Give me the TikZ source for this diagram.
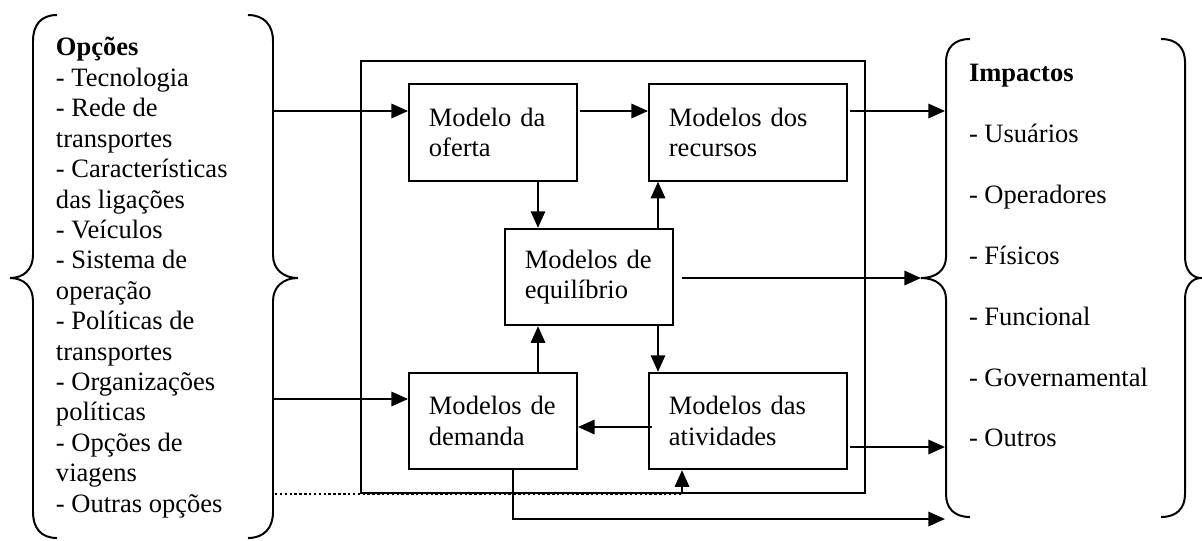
\documentclass[tikz,border=0pt]{standalone}
\usepackage{fontspec}
\setmainfont{Liberation Serif}
\usetikzlibrary{arrows.meta,calc}

\begin{document}
\begin{tikzpicture}[x=0.4525pt, y=-0.4525pt,
		line width=0.9pt,
		arr/.style={-{Triangle[length=7.5pt,width=6.5pt]}},
		dotline/.style={line width=1.1pt, dash pattern=on 1.1pt off 1.1pt},
		box/.style={draw, inner xsep=9pt, inner ysep=0pt, align=left, minimum height=43.6pt},
		lista/.style={anchor=north west, inner sep=0pt, align=left},
		font=\fontsize{12}{13.76}\selectfont]
		\useasboundingbox (0,0) rectangle (1202,540);
		%chaves esquerda
		\draw (57,15) .. controls (41,15) and (33,25) .. (33,41) -- (33,255) .. controls (33,269) and (24,278) .. (10,278) .. controls (24,278) and (33,287) .. (33,301) -- (33,512) .. controls (33,528) and (41,538) .. (57,538);
		\draw (248,15) .. controls (264,15) and (273,25) .. (273,41) -- (273,255) .. controls (273,269) and (283,278) .. (298,278) .. controls (283,278) and (273,287) .. (273,301) -- (273,512) .. controls (273,528) and (264,538) .. (248,538);
		%chaves direita
		\draw (970,39) .. controls (954,39) and (946,48) .. (946,62) -- (946,257) .. controls (946,270) and (936,278) .. (921,278) .. controls (936,278) and (946,286) .. (946,299) -- (946,494) .. controls (946,508) and (954,517) .. (970,517);
		\draw (1161,39) .. controls (1177,39) and (1185,48) .. (1185,62) -- (1185,257) .. controls (1185,270) and (1192,278) .. (1201,278) .. controls (1192,278) and (1185,286) .. (1185,299) -- (1185,494) .. controls (1185,508) and (1177,517) .. (1161,517);
		%
		\node[lista] (opcoes) at (55,33.7) {\strut\textbf{Opções}\\- Tecnologia\\- Rede de\\transportes\\- Características\\das ligações\\- Veículos\\- Sistema de\\operação\\- Políticas de\\transportes\\- Organizações\\políticas\\- Opções de\\viagens\\- Outras opções};
		\node[lista] (impactos) at (968,59.7) {\strut\textbf{Impactos}\\[13.76pt]- Usuários\\[13.76pt]- Operadores\\[13.76pt]- Físicos\\[13.76pt]- Funcional\\[13.76pt]- Governamental\\[13.76pt]- Outros};
		%quadro
		\draw (361,61) rectangle (865,493);
		\node[box, minimum width=76pt, text width=58pt] (oferta) at (493,132.5) {Modelo da\\oferta};
		\node[box, minimum width=89.6pt, text width=71.6pt] (recursos) at (748,132.5) {Modelos dos\\recursos};
		\node[box, minimum width=76pt, text width=58pt] (equil) at (589,277) {Modelos de\\equilíbrio};
		\node[box, minimum width=76pt, text width=58pt] (demanda) at (493,421) {Modelos de\\demanda};
		\node[box, minimum width=89.6pt, text width=71.6pt] (atividades) at (748,421) {Modelos das\\atividades};
		%
		\coordinate (inOferta) at (273,111);
		\coordinate (inDemanda) at (273,399);
		\coordinate (outRec) at (945,111);
		\coordinate (outAtiv) at (945,447);
		\coordinate (tipImp) at (921,278);
		\coordinate (outBaixo) at (945,519);
		\coordinate (outrasOp) at (275,494);
		\coordinate (subida) at (682,494);
		\coordinate (cantoDem) at (513,519);
		%setas
		\draw[arr] (inOferta) -- (inOferta -| oferta.west);
		\draw[arr] (inDemanda) -- (inDemanda -| demanda.west);
		\draw[arr, shorten <=1pt] (oferta.east |- inOferta) -- (recursos.west |- inOferta);
		\draw[arr, shorten <=1pt] (recursos.east |- outRec) -- (outRec);
		\draw[arr, shorten <=1pt] (atividades.east |- outAtiv) -- (outAtiv);
		\draw[arr, shorten <=3.5pt] (equil.east |- tipImp) -- (tipImp);
		\draw[arr] ($(oferta.south)+(45,0)$) -- ($(equil.north)+(-51,0)$);
		\draw[arr] ($(equil.north)+(69,0)$) -- ($(recursos.south)+(-90,0)$);
		\draw[arr] ($(demanda.north)+(45,0)$) -- ($(equil.south)+(-51,0)$);
		\draw[arr] ($(equil.south)+(69,0)$) -- ($(atividades.north)+(-90,0)$);
		\draw[arr] ($(atividades.west)+(4,6)$) -- ($(demanda.east)+(0,6)$);
		\draw[dotline] (outrasOp) -- (subida);
		\draw[arr] (subida) -- (subida |- atividades.south);
		\draw[arr] (demanda.south -| cantoDem) |- (outBaixo);
	\end{tikzpicture}
\end{document}
